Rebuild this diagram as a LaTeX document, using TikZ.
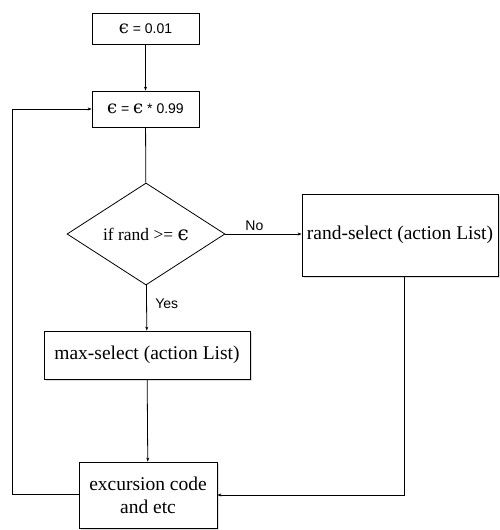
\documentclass[tikz,border=0pt]{standalone}
\usepackage{fontspec}
\setmainfont{Liberation Serif}
\setsansfont{Liberation Sans}
\newfontfamily\epsfont{DejaVu Serif}
\newcommand{\eps}[1][18]{{\epsfont\fontsize{#1}{#1}\selectfont\char"03F5}}
\usetikzlibrary{arrows.meta,positioning,shapes.geometric,shadows}

\begin{document}
\begin{tikzpicture}[x=1pt,y=-1pt,>={Stealth[length=4pt,width=3pt]},line width=0.8pt,
  epsbox/.style={draw,font=\sffamily\fontsize{14}{16}\selectfont,minimum width=107pt,inner sep=0pt,fill=white},
  actbox/.style={draw,font=\fontsize{19.5}{23}\selectfont,inner sep=0pt,align=center,fill=white,drop shadow={opacity=0.25,shadow xshift=1.5pt,shadow yshift=-1.5pt}},
  lbl/.style={font=\sffamily\fontsize{14}{16}\selectfont},
  flow/.style={->}]
\useasboundingbox (0,0) rectangle (499,530);
\node[epsbox,minimum height=31pt] (eps0) at (145.5,28.5) {\eps{} = 0.01};
\node[epsbox,minimum height=36pt] (epsupd) at (145.5,109) {\eps{} = \eps{} * 0.99};
\node[draw,diamond,aspect=1.55,inner sep=0pt,minimum width=158pt,minimum height=102pt,font=\fontsize{17.5}{21}\selectfont] (cond) at (146,234) {if rand >= \eps[20]};
\node[actbox,minimum width=196pt,minimum height=82pt] (randsel) at (400,235) {rand-select (action List)};
\node[actbox,minimum width=206pt,minimum height=48pt] (maxsel) at (147,355) {max-select (action List)};
\node[actbox,minimum width=138pt,minimum height=66pt] (excur) at (148,495) {excursion code\\and etc};
\coordinate (loopL) at (12,494);
\coordinate (randB) at (404,495);
\draw[flow] (eps0) -- (epsupd);
\draw (epsupd) -- (cond);
\draw[flow] (cond.east) -- node[pos=0.38,above=0pt,lbl] {No} (cond.east -| randsel.west);
\draw[flow] (cond) -- node[pos=0.4,right=5pt,lbl] {Yes} (maxsel);
\draw[flow] (maxsel) -- (excur);
\draw[flow] (excur.west |- loopL) -- (loopL) |- (epsupd.west);
\draw[flow] (randsel.south -| randB) -- (randB) -- (randB -| excur.east);
\end{tikzpicture}
\end{document}
